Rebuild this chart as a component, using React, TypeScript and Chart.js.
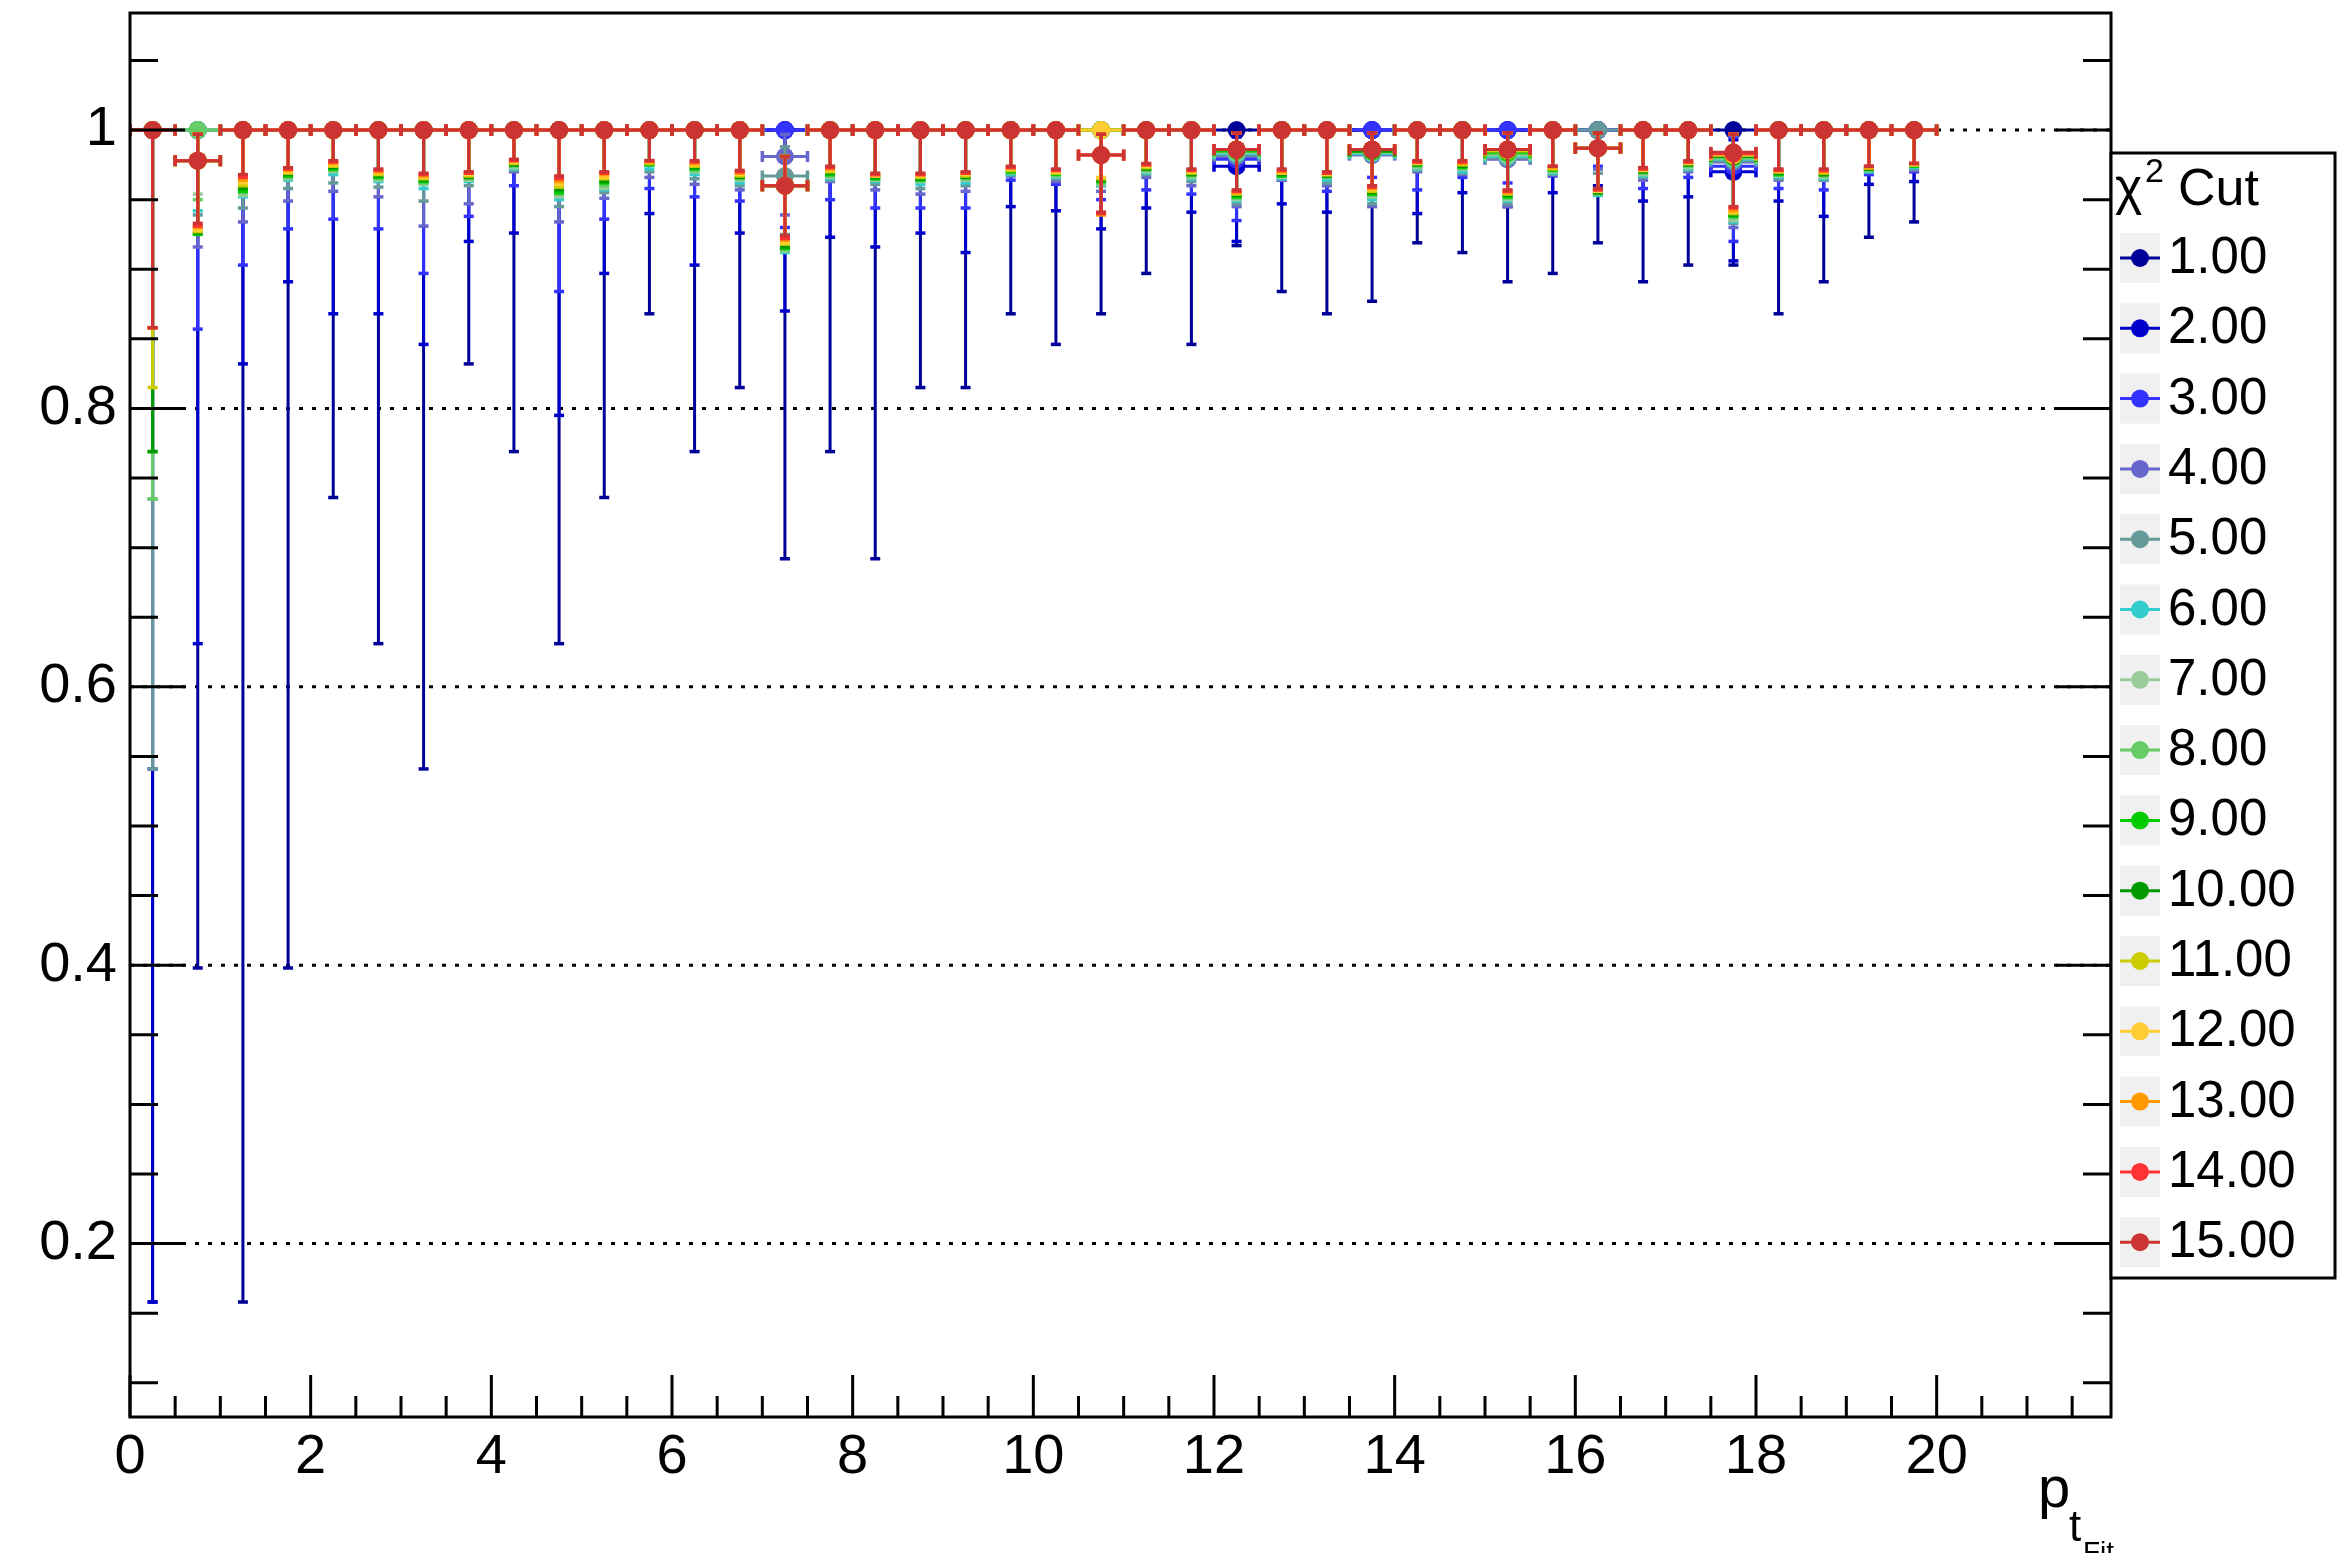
import React, { useEffect, useRef } from 'react';
import { Chart, registerables } from 'chart.js';

Chart.register(...registerables);

const CANVAS_W = 2351;
const CANVAS_H = 1553;
const FONT = '"Liberation Sans", Arial, Helvetica, sans-serif';

// ---------------- data ----------------
const BIN_CENTERS = [
  0.25, 0.75, 1.25, 1.75, 2.25, 2.75, 3.25, 3.75, 4.25, 4.75,
  5.25, 5.75, 6.25, 6.75, 7.25, 7.75, 8.25, 8.75, 9.25, 9.75,
  10.25, 10.75, 11.25, 11.75, 12.25, 12.75, 13.25, 13.75, 14.25, 14.75,
  15.25, 15.75, 16.25, 16.75, 17.25, 17.75, 18.25, 18.75, 19.25, 19.75,
];
const BIN_HALF_WIDTH = 0.25;

const CHI2_CUT_LABELS = [
  '1.00', '2.00', '3.00', '4.00', '5.00', '6.00', '7.00', '8.00',
  '9.00', '10.00', '11.00', '12.00', '13.00', '14.00', '15.00',
];
const SERIES_COLORS = [
  '#000099', '#0000cc', '#3333ff', '#6666cc', '#669999', '#33cccc', '#99cc99', '#66cc66',
  '#00cc00', '#009900', '#cccc00', '#ffcc33', '#ff9900', '#ff3333', '#cc3333',
];

const X_TICK_LABELS = [0, 2, 4, 6, 8, 10, 12, 14, 16, 18, 20];
const Y_TICK_LABELS = [0.2, 0.4, 0.6, 0.8, 1];
const X_MIN = 0;
const X_MAX = 21.93;
const Y_MIN = 0.0754;
const Y_MAX = 1.0841;

// efficiency values per chi2 cut
const effCut01 = [1,1,1,1,1,1,1,1,1,1, 1,1,1,1,1,1,1,1,1,1, 1,1,1,1,1,1,1,1,1,1, 1,1,1,1,1,1,1,1,1,1];
const effCut02 = [1,1,1,1,1,1,1,1,1,1, 1,1,1,1,1,1,1,1,1,1, 1,1,1,1,0.974,1,1,1,1,1, 1,1,1,1,1,0.970,1,1,1,1];
const effCut03 = [1,1,1,1,1,1,1,1,1,1, 1,1,1,1,1,1,1,1,1,1, 1,1,1,1,0.979,1,1,1,1,1, 1,1,1,1,1,0.974,1,1,1,1];
const effCut04 = [1,1,1,1,1,1,1,1,1,1, 1,1,1,1,0.981,1,1,1,1,1, 1,1,1,1,0.981,1,1,0.982,1,1, 0.979,1,1,1,1,0.977,1,1,1,1];
const effCut05 = [1,1,1,1,1,1,1,1,1,1, 1,1,1,1,0.967,1,1,1,1,1, 1,1,1,1,0.982,1,1,0.983,1,1, 0.980,1,1,1,1,0.978,1,1,1,1];
const effCut06 = [1,1,1,1,1,1,1,1,1,1, 1,1,1,1,0.960,1,1,1,1,1, 1,1,1,1,0.983,1,1,0.983,1,1, 0.981,1,0.987,1,1,0.979,1,1,1,1];
const effCut07 = [1,1,1,1,1,1,1,1,1,1, 1,1,1,1,0.960,1,1,1,1,1, 1,1,1,1,0.984,1,1,0.984,1,1, 0.982,1,0.987,1,1,0.980,1,1,1,1];
const effCut08 = [1,1,1,1,1,1,1,1,1,1, 1,1,1,1,0.960,1,1,1,1,1, 1,1,1,1,0.985,1,1,0.984,1,1, 0.983,1,0.987,1,1,0.980,1,1,1,1];
const effCut09 = [1,0.978,1,1,1,1,1,1,1,1, 1,1,1,1,0.960,1,1,1,1,1, 1,1,1,1,0.985,1,1,0.985,1,1, 0.984,1,0.987,1,1,0.981,1,1,1,1];
const effCut10 = [1,0.978,1,1,1,1,1,1,1,1, 1,1,1,1,0.960,1,1,1,1,1, 1,1,1,1,0.986,1,1,0.985,1,1, 0.985,1,0.987,1,1,0.981,1,1,1,1];
const effCut11 = [1,0.978,1,1,1,1,1,1,1,1, 1,1,1,1,0.960,1,1,1,1,1, 1,1,1,1,0.986,1,1,0.986,1,1, 0.985,1,0.987,1,1,0.982,1,1,1,1];
const effCut12 = [1,0.978,1,1,1,1,1,1,1,1, 1,1,1,1,0.960,1,1,1,1,1, 1,1,1,1,0.986,1,1,0.986,1,1, 0.986,1,0.987,1,1,0.982,1,1,1,1];
const effCut13 = [1,0.978,1,1,1,1,1,1,1,1, 1,1,1,1,0.960,1,1,1,1,1, 1,0.982,1,1,0.986,1,1,0.986,1,1, 0.986,1,0.987,1,1,0.983,1,1,1,1];
const effCut14 = [1,0.978,1,1,1,1,1,1,1,1, 1,1,1,1,0.960,1,1,1,1,1, 1,0.982,1,1,0.986,1,1,0.986,1,1, 0.986,1,0.987,1,1,0.983,1,1,1,1];
const effCut15 = [1,0.978,1,1,1,1,1,1,1,1, 1,1,1,1,0.960,1,1,1,1,1, 1,0.982,1,1,0.986,1,1,0.986,1,1, 0.986,1,0.987,1,1,0.984,1,1,1,1];

// lower edge of the error bar per chi2 cut
const lowCut01 = [0.158,0.398,0.158,0.398,0.736,0.631,0.541,0.832,0.769,0.631, 0.736,0.868,0.769,0.815,0.692,0.769,0.692,0.815,0.815,0.868, 0.846,0.868,0.897,0.846,0.917,0.884,0.868,0.877,0.919,0.912, 0.891,0.897,0.919,0.891,0.903,0.903,0.868,0.891,0.923,0.934];
const lowCut02 = [0.158,0.631,0.832,0.891,0.868,0.868,0.846,0.920,0.926,0.795, 0.897,0.940,0.903,0.926,0.870,0.923,0.916,0.926,0.912,0.945, 0.942,0.929,0.944,0.941,0.920,0.947,0.941,0.952,0.940,0.955, 0.945,0.955,0.960,0.949,0.952,0.906,0.949,0.938,0.961,0.963];
const lowCut03 = [0.541,0.857,0.903,0.929,0.936,0.929,0.897,0.938,0.960,0.884, 0.936,0.958,0.952,0.949,0.930,0.950,0.944,0.944,0.944,0.964, 0.961,0.950,0.957,0.954,0.935,0.964,0.956,0.966,0.957,0.966, 0.962,0.967,0.974,0.958,0.966,0.920,0.958,0.957,0.968,0.970];
const lowCut04 = [0.541,0.916,0.934,0.949,0.956,0.952,0.931,0.947,0.970,0.934, 0.951,0.966,0.961,0.957,0.939,0.963,0.957,0.954,0.956,0.967, 0.963,0.956,0.966,0.960,0.945,0.964,0.960,0.945,0.970,0.968, 0.945,0.968,0.972,0.964,0.970,0.930,0.964,0.964,0.970,0.971];
const lowCut05 = [0.541,0.939,0.944,0.958,0.962,0.959,0.949,0.960,0.971,0.945, 0.955,0.970,0.965,0.960,0.925,0.964,0.961,0.958,0.960,0.968, 0.965,0.960,0.968,0.963,0.947,0.965,0.962,0.947,0.971,0.969, 0.947,0.968,0.969,0.966,0.971,0.933,0.965,0.964,0.970,0.972];
const lowCut06 = [0.735,0.942,0.952,0.964,0.968,0.963,0.958,0.963,0.972,0.950, 0.957,0.972,0.968,0.962,0.912,0.965,0.963,0.961,0.962,0.968, 0.966,0.960,0.969,0.965,0.949,0.965,0.964,0.950,0.972,0.970, 0.949,0.969,0.953,0.967,0.972,0.934,0.966,0.965,0.970,0.973];
const lowCut07 = [0.735,0.954,0.953,0.965,0.970,0.964,0.961,0.964,0.973,0.952, 0.958,0.975,0.970,0.964,0.913,0.966,0.964,0.963,0.964,0.969, 0.967,0.961,0.970,0.966,0.950,0.966,0.966,0.952,0.973,0.972, 0.950,0.970,0.954,0.968,0.973,0.935,0.967,0.966,0.971,0.974];
const lowCut08 = [0.735,0.950,0.955,0.966,0.971,0.965,0.962,0.965,0.974,0.954, 0.960,0.975,0.971,0.965,0.914,0.967,0.965,0.964,0.965,0.969, 0.968,0.962,0.971,0.967,0.951,0.967,0.966,0.953,0.974,0.973, 0.951,0.971,0.954,0.969,0.974,0.937,0.968,0.967,0.971,0.974];
const lowCut09 = [0.769,0.925,0.956,0.967,0.972,0.966,0.963,0.966,0.975,0.955, 0.962,0.975,0.972,0.966,0.915,0.968,0.965,0.964,0.966,0.970, 0.968,0.963,0.972,0.968,0.952,0.967,0.967,0.954,0.975,0.973, 0.952,0.971,0.955,0.970,0.975,0.938,0.968,0.968,0.972,0.974];
const lowCut10 = [0.769,0.926,0.958,0.968,0.973,0.967,0.964,0.966,0.975,0.957, 0.963,0.976,0.973,0.966,0.916,0.969,0.966,0.965,0.966,0.971, 0.969,0.964,0.972,0.968,0.953,0.968,0.967,0.955,0.975,0.974, 0.953,0.972,0.955,0.970,0.975,0.939,0.969,0.968,0.972,0.975];
const lowCut11 = [0.815,0.927,0.960,0.969,0.974,0.968,0.965,0.967,0.976,0.959, 0.965,0.976,0.974,0.967,0.918,0.970,0.967,0.966,0.967,0.971, 0.969,0.965,0.973,0.969,0.954,0.969,0.968,0.956,0.976,0.975, 0.954,0.972,0.956,0.971,0.976,0.940,0.970,0.969,0.973,0.975];
const lowCut12 = [0.858,0.928,0.962,0.970,0.975,0.969,0.966,0.968,0.977,0.961, 0.966,0.977,0.975,0.968,0.919,0.971,0.967,0.967,0.968,0.972, 0.970,0.966,0.974,0.970,0.955,0.969,0.968,0.957,0.976,0.976, 0.955,0.973,0.956,0.971,0.976,0.941,0.970,0.970,0.973,0.975];
const lowCut13 = [0.858,0.930,0.964,0.971,0.976,0.970,0.967,0.969,0.978,0.963, 0.968,0.977,0.976,0.969,0.921,0.972,0.968,0.968,0.969,0.973, 0.971,0.939,0.975,0.971,0.955,0.970,0.969,0.958,0.977,0.976, 0.955,0.973,0.957,0.972,0.977,0.942,0.971,0.970,0.973,0.976];
const lowCut14 = [0.858,0.931,0.966,0.972,0.977,0.971,0.968,0.969,0.978,0.965, 0.969,0.978,0.977,0.970,0.922,0.973,0.968,0.968,0.969,0.973, 0.971,0.940,0.975,0.971,0.956,0.971,0.969,0.959,0.977,0.977, 0.956,0.974,0.957,0.972,0.977,0.944,0.971,0.971,0.974,0.976];
const lowCut15 = [0.858,0.933,0.968,0.973,0.978,0.972,0.969,0.970,0.979,0.967, 0.970,0.978,0.978,0.971,0.924,0.974,0.969,0.969,0.970,0.974, 0.972,0.941,0.976,0.972,0.957,0.972,0.970,0.960,0.978,0.978, 0.957,0.974,0.958,0.973,0.978,0.945,0.972,0.972,0.974,0.976];

// upper edge of the error bar per chi2 cut
const highCut01 = [1,1,1,1,1,1,1,1,1,1, 1,1,1,1,1,1,1,1,1,1, 1,1,1,1,1,1,1,1,1,1, 1,1,1,1,1,1,1,1,1,1];
const highCut02 = [1,1,1,1,1,1,1,1,1,1, 1,1,1,1,1,1,1,1,1,1, 1,1,1,1,0.995,1,1,1,1,1, 1,1,1,1,1,0.993,1,1,1,1];
const highCut03 = [1,1,1,1,1,1,1,1,1,1, 1,1,1,1,1,1,1,1,1,1, 1,1,1,1,0.998,1,1,1,1,1, 1,1,1,1,1,0.995,1,1,1,1];
const highCut04 = [1,1,1,1,1,1,1,1,1,1, 1,1,1,1,0.997,1,1,1,1,1, 1,1,1,1,0.998,1,1,0.998,1,1, 0.998,1,1,1,1,0.996,1,1,1,1];
const highCut05 = [1,1,1,1,1,1,1,1,1,1, 1,1,1,1,0.988,1,1,1,1,1, 1,1,1,1,0.998,1,1,0.998,1,1, 0.998,1,1,1,1,0.997,1,1,1,1];
const highCut06 = [1,1,1,1,1,1,1,1,1,1, 1,1,1,1,0.981,1,1,1,1,1, 1,1,1,1,0.998,1,1,0.998,1,1, 0.998,1,0.998,1,1,0.997,1,1,1,1];
const highCut07 = [1,1,1,1,1,1,1,1,1,1, 1,1,1,1,0.981,1,1,1,1,1, 1,1,1,1,0.998,1,1,0.998,1,1, 0.998,1,0.998,1,1,0.997,1,1,1,1];
const highCut08 = [1,1,1,1,1,1,1,1,1,1, 1,1,1,1,0.981,1,1,1,1,1, 1,1,1,1,0.998,1,1,0.998,1,1, 0.998,1,0.998,1,1,0.997,1,1,1,1];
const highCut09 = [1,0.997,1,1,1,1,1,1,1,1, 1,1,1,1,0.981,1,1,1,1,1, 1,1,1,1,0.998,1,1,0.998,1,1, 0.998,1,0.998,1,1,0.997,1,1,1,1];
const highCut10 = [1,0.997,1,1,1,1,1,1,1,1, 1,1,1,1,0.981,1,1,1,1,1, 1,1,1,1,0.998,1,1,0.998,1,1, 0.998,1,0.998,1,1,0.997,1,1,1,1];
const highCut11 = [1,0.997,1,1,1,1,1,1,1,1, 1,1,1,1,0.981,1,1,1,1,1, 1,1,1,1,0.998,1,1,0.998,1,1, 0.998,1,0.998,1,1,0.997,1,1,1,1];
const highCut12 = [1,0.997,1,1,1,1,1,1,1,1, 1,1,1,1,0.981,1,1,1,1,1, 1,1,1,1,0.998,1,1,0.998,1,1, 0.998,1,0.998,1,1,0.997,1,1,1,1];
const highCut13 = [1,0.997,1,1,1,1,1,1,1,1, 1,1,1,1,0.981,1,1,1,1,1, 1,0.997,1,1,0.998,1,1,0.998,1,1, 0.998,1,0.998,1,1,0.997,1,1,1,1];
const highCut14 = [1,0.997,1,1,1,1,1,1,1,1, 1,1,1,1,0.981,1,1,1,1,1, 1,0.997,1,1,0.998,1,1,0.998,1,1, 0.998,1,0.998,1,1,0.997,1,1,1,1];
const highCut15 = [1,0.997,1,1,1,1,1,1,1,1, 1,1,1,1,0.981,1,1,1,1,1, 1,0.997,1,1,0.998,1,1,0.998,1,1, 0.998,1,0.998,1,1,0.997,1,1,1,1];

const EFF_SERIES = [effCut01, effCut02, effCut03, effCut04, effCut05, effCut06, effCut07, effCut08, effCut09, effCut10, effCut11, effCut12, effCut13, effCut14, effCut15];
const LOW_SERIES = [lowCut01, lowCut02, lowCut03, lowCut04, lowCut05, lowCut06, lowCut07, lowCut08, lowCut09, lowCut10, lowCut11, lowCut12, lowCut13, lowCut14, lowCut15];
const HIGH_SERIES = [highCut01, highCut02, highCut03, highCut04, highCut05, highCut06, highCut07, highCut08, highCut09, highCut10, highCut11, highCut12, highCut13, highCut14, highCut15];

// ---------------- drawing helpers ----------------
const MARKER_RADIUS = 9;

const errorBarPlugin = {
  id: 'rootErrorBars',
  beforeDatasetDraw(chart: any, args: any) {
    const ds = chart.data.datasets[args.index];
    const xs = chart.scales.x;
    const ys = chart.scales.y;
    const ctx = chart.ctx as CanvasRenderingContext2D;
    const a = chart.chartArea;
    ctx.save();
    ctx.beginPath();
    ctx.rect(a.left, a.top, a.right - a.left, a.bottom - a.top);
    ctx.clip();
    ctx.strokeStyle = ds.borderColor;
    ctx.fillStyle = ds.borderColor;
    ctx.lineWidth = 3;
    for (const p of ds.data) {
      const px = xs.getPixelForValue(p.x);
      const py = ys.getPixelForValue(p.y);
      const xl = xs.getPixelForValue(p.x - BIN_HALF_WIDTH);
      const xr = xs.getPixelForValue(p.x + BIN_HALF_WIDTH);
      const yl = ys.getPixelForValue(p.yLow);
      const yh = ys.getPixelForValue(p.yHigh);
      ctx.beginPath();
      ctx.moveTo(xl, py);
      ctx.lineTo(xr, py);
      ctx.moveTo(px, yl);
      ctx.lineTo(px, yh);
      ctx.stroke();
      ctx.fillRect(xl - 1.75, py - 5.5, 3.5, 11);
      ctx.fillRect(xr - 1.75, py - 5.5, 3.5, 11);
      if (p.yLow < p.y) ctx.fillRect(px - 5, yl - 1.75, 10, 3.5);
      if (p.yHigh > p.y) ctx.fillRect(px - 5, yh - 1.75, 10, 3.5);
    }
    ctx.restore();
  },
};

const framePlugin = {
  id: 'rootFrame',
  beforeDatasetsDraw(chart: any) {
    const ctx = chart.ctx as CanvasRenderingContext2D;
    const a = chart.chartArea;
    const ys = chart.scales.y;
    ctx.save();
    ctx.strokeStyle = '#000';
    ctx.lineWidth = 3;
    ctx.setLineDash([4, 9]);
    for (const v of Y_TICK_LABELS) {
      const y = ys.getPixelForValue(v);
      ctx.beginPath();
      ctx.moveTo(a.left, y);
      ctx.lineTo(a.right, y);
      ctx.stroke();
    }
    ctx.restore();
  },
  afterDraw(chart: any) {
    const ctx = chart.ctx as CanvasRenderingContext2D;
    const a = chart.chartArea;
    const xs = chart.scales.x;
    const ys = chart.scales.y;
    ctx.save();
    ctx.strokeStyle = '#000';
    ctx.lineWidth = 3;
    ctx.setLineDash([]);
    ctx.strokeRect(a.left, a.top, a.right - a.left, a.bottom - a.top);

    // y ticks (both sides), every 0.05
    ctx.beginPath();
    for (let k = 2; k <= 21; k++) {
      const v = k * 0.05;
      const y = ys.getPixelForValue(v);
      const len = k % 4 === 0 ? 55 : 28;
      ctx.moveTo(a.left, y);
      ctx.lineTo(a.left + len, y);
      ctx.moveTo(a.right, y);
      ctx.lineTo(a.right - len, y);
    }
    // x ticks, every 0.5
    for (let k = 0; k <= 43; k++) {
      const v = k * 0.5;
      if (v > X_MAX) break;
      const x = xs.getPixelForValue(v);
      const len = k % 4 === 0 ? 42 : 21;
      ctx.moveTo(x, a.bottom);
      ctx.lineTo(x, a.bottom - len);
    }
    ctx.stroke();

    // axis title p_{t_{Fit}}
    ctx.fillStyle = '#000';
    ctx.textBaseline = 'alphabetic';
    ctx.textAlign = 'left';
    ctx.font = `58px ${FONT}`;
    ctx.fillText('p', 2038, 1507);
    ctx.font = `44px ${FONT}`;
    ctx.fillText('t', 2069, 1541);
    ctx.font = `28px ${FONT}`;
    ctx.fillText('Fit', 2083, 1561);

    // legend
    const lx = 2111, ly = 153, lw = 224, lh = 1125;
    ctx.fillStyle = '#fff';
    ctx.fillRect(lx, ly, lw, lh);
    ctx.lineWidth = 3;
    ctx.strokeStyle = '#000';
    ctx.strokeRect(lx, ly, lw, lh);

    ctx.fillStyle = '#000';
    ctx.font = `52px ${FONT}`;
    ctx.fillText('\u03c7', 2115, 204);
    ctx.font = `34px ${FONT}`;
    ctx.fillText('2', 2145, 182);
    ctx.font = `52px ${FONT}`;
    ctx.fillText('Cut', 2178, 205);

    const rowStart = 258;
    const rowStep = 70.3;
    CHI2_CUT_LABELS.forEach((label, k) => {
      const cy = rowStart + rowStep * k;
      ctx.fillStyle = '#f0f0f0';
      ctx.fillRect(2120, cy - 25, 40, 50);
      ctx.strokeStyle = SERIES_COLORS[k];
      ctx.lineWidth = 3;
      ctx.beginPath();
      ctx.moveTo(2120, cy);
      ctx.lineTo(2160, cy);
      ctx.stroke();
      ctx.fillStyle = SERIES_COLORS[k];
      ctx.beginPath();
      ctx.arc(2140, cy, MARKER_RADIUS, 0, Math.PI * 2);
      ctx.fill();
      ctx.fillStyle = '#000';
      ctx.font = `51px ${FONT}`;
      ctx.textBaseline = 'middle';
      ctx.fillText(label, 2168, cy + 1);
      ctx.textBaseline = 'alphabetic';
    });
    ctx.restore();
  },
};

export default function App() {
  const canvasRef = useRef<HTMLCanvasElement | null>(null);

  useEffect(() => {
    document.body.style.margin = '0';
    const canvas = canvasRef.current;
    if (!canvas) return;

    const datasets = CHI2_CUT_LABELS.map((label, i) => ({
      label,
      data: BIN_CENTERS.map((x, j) => ({
        x,
        y: EFF_SERIES[i][j],
        yLow: LOW_SERIES[i][j],
        yHigh: HIGH_SERIES[i][j],
      })),
      borderColor: SERIES_COLORS[i],
      backgroundColor: SERIES_COLORS[i],
      pointBackgroundColor: SERIES_COLORS[i],
      pointBorderWidth: 0,
      pointRadius: MARKER_RADIUS,
      pointHoverRadius: MARKER_RADIUS,
      showLine: false,
      order: CHI2_CUT_LABELS.length - 1 - i,
    }));

    const chart = new Chart(canvas, {
      type: 'scatter',
      data: { datasets: datasets as any },
      options: {
        responsive: false,
        animation: false,
        devicePixelRatio: 1,
        events: [],
        layout: { padding: { top: 13, right: 240, bottom: 0, left: 0 } },
        plugins: {
          legend: { display: false },
          tooltip: { enabled: false },
          title: { display: false },
        },
        scales: {
          x: {
            type: 'linear',
            min: X_MIN,
            max: X_MAX,
            grid: { display: false, drawTicks: false },
            border: { display: false },
            afterBuildTicks: (s: any) => {
              s.ticks = X_TICK_LABELS.map((v) => ({ value: v }));
            },
            afterFit: (s: any) => {
              s.height = CANVAS_H - 1417;
              s.paddingLeft = 0;
              s.paddingRight = 0;
            },
            ticks: {
              color: '#000',
              font: { family: FONT, size: 56 },
              padding: 7,
              maxRotation: 0,
              minRotation: 0,
              autoSkip: false,
              callback: (v: any) => String(v),
            },
          },
          y: {
            type: 'linear',
            min: Y_MIN,
            max: Y_MAX,
            grid: { display: false, drawTicks: false },
            border: { display: false },
            afterBuildTicks: (s: any) => {
              s.ticks = Y_TICK_LABELS.map((v) => ({ value: v }));
            },
            afterFit: (s: any) => {
              s.width = 130;
              s.paddingTop = 0;
              s.paddingBottom = 0;
            },
            ticks: {
              color: '#000',
              font: { family: FONT, size: 56 },
              padding: 13,
              autoSkip: false,
              callback: (v: any) => String(v),
            },
          },
        },
      },
      plugins: [framePlugin, errorBarPlugin],
    });

    return () => {
      chart.destroy();
    };
  }, []);

  return (
    <canvas
      ref={canvasRef}
      width={CANVAS_W}
      height={CANVAS_H}
      style={{ display: 'block', width: CANVAS_W, height: CANVAS_H }}
    />
  );
}
